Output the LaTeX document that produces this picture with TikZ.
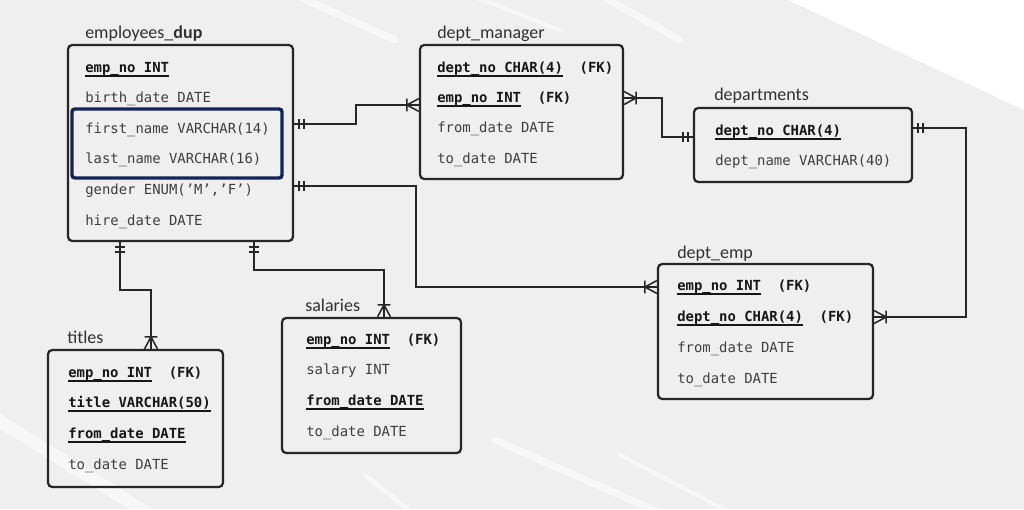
\documentclass[tikz,border=0pt]{standalone}
\usepackage{fontspec}
\setmainfont{Carlito}
\setmonofont{DejaVu Sans Mono}
\usetikzlibrary{fit,decorations.markings}

\definecolor{paper}{RGB}{239,239,240}
\definecolor{rowgray}{RGB}{62,62,62}
\definecolor{keyblack}{RGB}{22,22,22}
\definecolor{ttlgray}{RGB}{48,48,48}
\definecolor{navy}{RGB}{20,36,86}

\newcommand{\keyfield}[1]{{\color{keyblack}\setbox0\hbox{\bfseries #1}\rlap{\rule[-3.4pt]{\wd0}{1.2pt}}\box0}}
\newcommand{\fkmark}{\hspace{1.2em}{\color{keyblack}\bfseries (FK)}}

\tikzset{
  tablebox/.style={draw=black!85, line width=1.6pt, rounded corners=3pt, inner sep=0pt},
  tabletitle/.style={anchor=base west, inner sep=0pt, text=ttlgray, font=\fontsize{12.8}{15}\selectfont},
  field/.style={anchor=base west, inner sep=0pt, text=rowgray, font=\ttfamily\fontsize{9.9}{12}\selectfont},
  pick/.style={draw=navy, line width=2.4pt, rounded corners=2pt, inner sep=0pt},
  streak/.style={white, line width=5pt, line cap=round, opacity=.55},
  relation/.style={draw=black!85, line width=1.3pt, postaction={decorate, decoration={markings,
      mark=at position 0 with {\draw[black!85, line width=1.1pt] (3.6pt,-3.6pt) -- (3.6pt,3.6pt) (7.1pt,-3.6pt) -- (7.1pt,3.6pt);},
      mark=at position 1 with {\draw[black!85, line width=1.1pt] (-8.5pt,-4.6pt) -- (-8.5pt,4.6pt) (0pt,4.6pt) -- (-8.5pt,0pt) -- (0pt,-4.6pt);}}}},
}

\begin{document}
\begin{tikzpicture}[x=0.025cm, y=-0.025cm]
    \fill[paper] (0,0) rectangle (1024,509);
    \useasboundingbox (0,0) rectangle (1024,509);

    %%background brush
    \fill[white] (788,0) -- (1024,0) -- (1024,110) -- cycle;
    \draw[streak] (295,-5) -- (395,40);
    \draw[streak, line width=3pt] (470,-5) -- (560,30);
    \draw[streak] (600,-5) -- (680,40);
    \draw[streak, line width=9pt] (-5,418) -- (150,515);
    \draw[streak] (495,440) -- (665,515);
    \draw[streak, line width=3pt] (620,455) -- (735,515);
    \draw[streak, line width=3pt] (365,475) -- (415,515);

    %%employees_dup
    \node[tablebox, fit={(68,45) (293,241)}] (emp) {};
    \node[tabletitle] (empT) at (85,38) {employees\_\textbf{dup}};
        \node[field] (emp1) at (85,72) {\keyfield{emp\_no INT}};
        \node[field] (emp2) at (85,102) {birth\_date DATE};
        \node[field] (emp3) at (85,133) {first\_name VARCHAR(14)};
        \node[field] (emp4) at (85,163) {last\_name VARCHAR(16)};
        \node[field] (emp5) at (85,194) {gender ENUM(’M’,’F’)};
        \node[field] (emp6) at (85,225) {hire\_date DATE};
    \node[pick, fit={(72,109) (282,178)}] (sel) {};

    %%dept_manager
    \node[tablebox, fit={(420,45) (623,179)}] (mgr) {};
    \node[tabletitle] (mgrT) at (437,38) {dept\_manager};
        \node[field] (mgr1) at (437,72) {\keyfield{dept\_no CHAR(4)}\fkmark};
        \node[field] (mgr2) at (437,102) {\keyfield{emp\_no INT}\fkmark};
        \node[field] (mgr3) at (437,132) {from\_date DATE};
        \node[field] (mgr4) at (437,163) {to\_date DATE};

    %%departments
    \node[tablebox, fit={(694,108) (912,182)}] (dep) {};
    \node[tabletitle] (depT) at (714,100) {departments};
        \node[field] (dep1) at (715,135) {\keyfield{dept\_no CHAR(4)}};
        \node[field] (dep2) at (715,165) {dept\_name VARCHAR(40)};

    %%dept_emp
    \node[tablebox, fit={(658,264) (873,399)}] (demp) {};
    \node[tabletitle] (dempT) at (677,258) {dept\_emp};
        \node[field] (demp1) at (677,290) {\keyfield{emp\_no INT}\fkmark};
        \node[field] (demp2) at (677,321) {\keyfield{dept\_no CHAR(4)}\fkmark};
        \node[field] (demp3) at (677,352) {from\_date DATE};
        \node[field] (demp4) at (677,383) {to\_date DATE};

    %%titles
    \node[tablebox, fit={(48,350) (223,487)}] (tit) {};
    \node[tabletitle] (titT) at (67,343) {titles};
        \node[field] (tit1) at (68,377) {\keyfield{emp\_no INT}\fkmark};
        \node[field] (tit2) at (68,407) {\keyfield{title VARCHAR(50)}};
        \node[field] (tit3) at (68,438) {\keyfield{from\_date DATE}};
        \node[field] (tit4) at (68,469) {to\_date DATE};

    %%salaries
    \node[tablebox, fit={(282,318) (461,453)}] (sal) {};
    \node[tabletitle] (salT) at (305,311) {salaries};
        \node[field] (sal1) at (306,344) {\keyfield{emp\_no INT}\fkmark};
        \node[field] (sal2) at (306,374) {salary INT};
        \node[field] (sal3) at (306,405) {\keyfield{from\_date DATE}};
        \node[field] (sal4) at (306,436) {to\_date DATE};

    %%relations
    \draw[relation] (emp.east |- 0,124) -- (356,124) |- (mgr.west |- 0,105);
    \draw[relation] (emp.east |- 0,186) -- (416,186) |- (demp.west |- 0,287);
    \draw[relation] (dep.west |- 0,137) -- (662,137) |- (mgr.east |- 0,98);
    \draw[relation] (dep.east |- 0,128) -- (966,128) |- (demp.east |- 0,317);
    \draw[relation] (emp.south -| 120,0) -- (120,290) -| (tit.north -| 151,0);
    \draw[relation] (emp.south -| 254,0) -- (254,270) -| (sal.north -| 384,0);

\end{tikzpicture}
\end{document}
